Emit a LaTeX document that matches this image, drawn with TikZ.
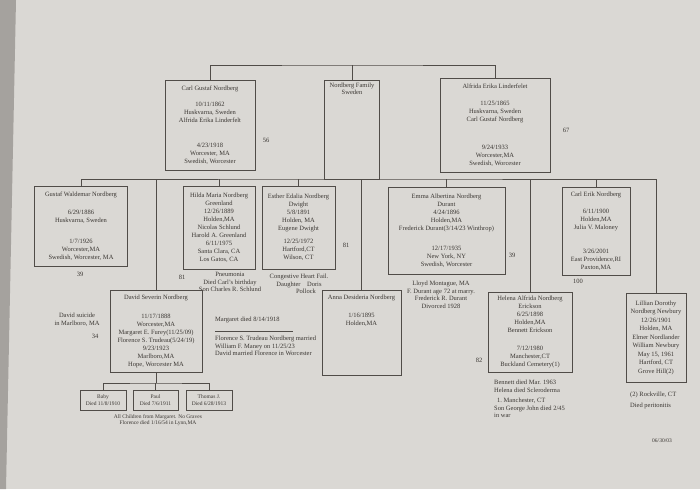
\documentclass[tikz,border=0pt]{standalone}
\usepackage{fontspec}
\setmainfont{Liberation Serif}
\definecolor{paper}{RGB}{218,216,212}
\definecolor{edge}{RGB}{165,162,158}
\definecolor{ink}{RGB}{58,54,50}
\definecolor{rule}{RGB}{80,76,72}
\begin{document}
\begin{tikzpicture}[x=1pt,y=-1pt,
  box/.style={draw=rule,line width=0.9pt,align=center,text=ink,
    font=\fontsize{6.5}{8}\selectfont,inner sep=1pt},
  txt/.style={text=ink,font=\fontsize{6.5}{7.5}\selectfont,align=center,inner sep=0pt},
  ltxt/.style={txt,align=left,anchor=west},
  kidbox/.style={box,font=\fontsize{5.5}{7}\selectfont},
  wire/.style={draw=rule,line width=0.9pt}]
\fill[paper] (0,0) rectangle (700,489);
\fill[edge] (0,0) -- (16,0) -- (6,489) -- (0,489) -- cycle;
\useasboundingbox (0,0) rectangle (700,489);

% generation 1
\node[box,minimum width=90pt,minimum height=90pt] (carl) at (210,125)
  {Carl Gustaf Nordberg\\[8pt]10/11/1862\\Huskvarna, Sweden\\Alfrida Erika Linderfelt\\[17pt]4/23/1918\\Worcester, MA\\Swedish, Worcester};
\node[box,minimum width=55pt,minimum height=99pt] (nf) at (352,129.5) {};
\node[txt,below=3pt] (nft) at (nf.north) {Nordberg Family\\Sweden};
\node[box,minimum width=110pt,minimum height=94pt] (alf) at (495,125)
  {Alfrida Erika Linderfelet\\[9pt]11/25/1865\\Huskvarna, Sweden\\Carl Gustaf Nordberg\\[20pt]9/24/1933\\Worcester,MA\\Swedish, Worcester};
\node[txt] (n56) at (266,140) {56};
\node[txt] (n67) at (566,130) {67};

\coordinate (top) at (352,65);
\draw[wire] (carl.north) |- (top) -| (alf.north);
\draw[wire] (nf.north) -- (top);

% generation 2
\node[box,minimum width=93pt,minimum height=80pt] (gus) at (81,226)
  {Gustaf Waldemar Nordberg\\[10pt]6/29/1886\\Huskvarna, Sweden\\[13pt]1/7/1926\\Worcester,MA\\Swedish, Worcester, MA};
\node[txt] (n39a) at (80,274) {39};

\node[box,minimum width=72pt,minimum height=83pt] (hil) at (219,227.5)
  {Hilda Maria Nordberg\\Greenland\\12/26/1889\\Holden,MA\\Nicolas Schlund\\Harold A. Greenland\\6/11/1975\\Santa Clara, CA\\Los Gatos, CA};
\node[txt] (n81a) at (182,277) {81};
\node[txt,anchor=north] (hilnote) at (230,272) {Pneumonia\\Died Carl's birthday\\Son Charles R. Schlund};

\node[box,minimum width=73pt,minimum height=83pt] (est) at (298.5,227.5)
  {Esther Edalia Nordberg\\Dwight\\5/8/1891\\Holden, MA\\Eugene Dwight\\[5pt]12/25/1972\\Hartford,CT\\Wilson, CT};
\node[txt,anchor=north] (estnote) at (299,274) {Congestive Heart Fail.\\Daughter\quad Doris\\\hspace*{14pt}Pollock};
\node[txt] (n81b) at (346,245) {81};

\node[box,minimum width=117pt,minimum height=87pt] (emma) at (446.5,230.5)
  {Emma Albertina Nordberg\\Durant\\4/24/1896\\Holden,MA\\Frederick Durant(3/14/23 Winthrop)\\[12pt]12/17/1935\\New York, NY\\Swedish, Worcester};
\node[txt] (n39b) at (512,255) {39};
\node[txt,anchor=north] (emmanote) at (441,281) {Lloyd Montague, MA\\F. Durant age 72 at marry.\\Frederick R. Durant\\Divorced 1928};

\node[box,minimum width=68pt,minimum height=88pt] (ce) at (596,231)
  {Carl Erik Nordberg\\[9pt]6/11/1900\\Holden,MA\\Julia V. Maloney\\[16pt]3/26/2001\\East Providence,RI\\Paxton,MA};
\node[txt] (n100) at (578,281) {100};

\node[box,minimum width=92pt,minimum height=82pt] (dav) at (156,331)
  {David Severin Nordberg\\[11pt]11/17/1888\\Worcester,MA\\Margaret E. Furey(11/25/09)\\Florence S. Trudeau(5/24/19)\\9/23/1923\\Marlboro,MA\\Hope, Worcester MA};
\node[txt] (davl) at (77,319.5) {David suicide\\in Marlboro, MA};
\node[txt] (n34) at (95,336) {34};
\node[ltxt] (marg) at (215,320) {Margaret died 8/14/1918};
\coordinate (mrl) at (215,331);
\coordinate (mrr) at (293,331);
\draw[rule,line width=0.5pt] (mrl) -- (mrr);
\node[ltxt,anchor=north west] (flor) at (215,336) {Florence S. Trudeau Nordberg married\\William F. Maney on 11/25/23\\David married Florence in Worcester};

\node[box,minimum width=79pt,minimum height=85pt] (anna) at (361.5,332.5) {};
\node[txt,below=5pt] (annat) at (anna.north) {Anna Desideria Nordberg\\[11pt]1/16/1895\\Holden,MA};
\node[txt] (n82) at (479,360) {82};

\node[box,minimum width=84pt,minimum height=80pt] (hel) at (530,332)
  {Helena Alfrida Nordberg\\Erickson\\6/25/1898\\Holden,MA\\Bennett Erickson\\[10pt]7/12/1980\\Manchester,CT\\Buckland Cemetery(1)};
\node[ltxt,anchor=north west] (helnote) at (494,380) {Bennett died Mar. 1963\\Helena died Scleroderma\\[3pt]\hspace*{3pt}1.\ Manchester, CT\\Son George John died 2/45\\in war};

\node[box,minimum width=60pt,minimum height=89pt,font=\fontsize{6.5}{8.5}\selectfont] (lil) at (656,337.5)
  {Lillian Dorothy\\Nordberg Newbury\\12/26/1901\\Holden, MA\\Elmer Nordlander\\William Newbury\\May 15, 1961\\Hartford, CT\\Grove Hill(2)};
\node[ltxt,anchor=north west] (lilnote) at (630,392) {(2) Rockville, CT\\[3pt]Died peritonitis};
\node[txt,font=\fontsize{5.5}{7}\selectfont] (date) at (662,441) {06/30/03};

\coordinate (bus) at (352,179);
\draw[wire] (gus.north) |- (bus) -| (lil.north);
\foreach \n in {hil,est,dav,anna,emma,hel,ce}
  \draw[wire] (\n.north) -- (\n.north |- bus);

% generation 3
\node[kidbox,minimum width=46pt,minimum height=20pt] (baby) at (103,400) {Baby\\Died 11/8/1910};
\node[kidbox,minimum width=45pt,minimum height=20pt] (paul) at (155.5,400) {Paul\\Died 7/6/1911};
\node[kidbox,minimum width=46pt,minimum height=20pt] (thom) at (209,400) {Thomas J.\\Died 6/28/1913};
\coordinate (kid) at (155.5,383);
\draw[wire] (dav.south) -- (dav.south |- kid);
\draw[wire] (baby.north) |- (kid) -| (thom.north);
\draw[wire] (paul.north) -- (paul.north |- kid);
\node[txt,anchor=north,font=\fontsize{5.5}{6.5}\selectfont] (kidnote) at (158,414) {All Children from Margaret. No Graves\\Florence died 1/16/54 in Lynn,MA};
\end{tikzpicture}
\end{document}
